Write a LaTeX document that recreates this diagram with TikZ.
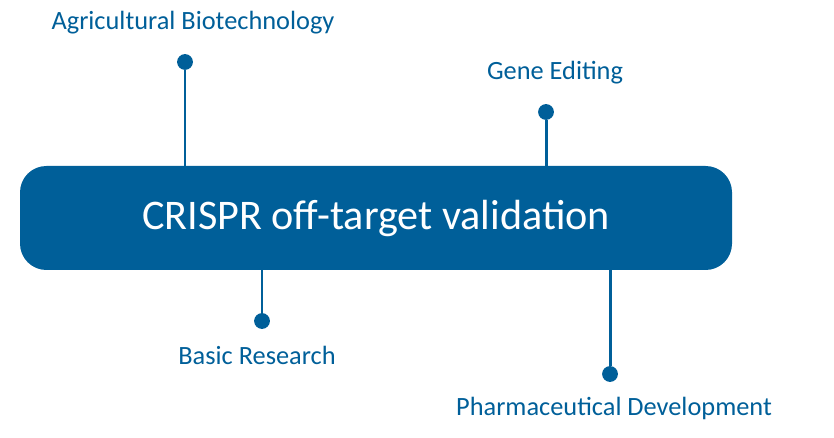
\documentclass[tikz,border=0pt]{standalone}
\usepackage{fontspec}
\setmainfont{Carlito}
\definecolor{crblue}{HTML}{005F99}
\tikzset{
  pin/.style={circle, fill=crblue, inner sep=0pt, minimum size=9pt},
  lbl/.style={text=crblue, font=\fontsize{15}{18}\selectfont},
  stem/.style={draw=crblue, line width=1.7pt}
}
\begin{document}
\begin{tikzpicture}[x=0.02cm, y=-0.02cm]
	\useasboundingbox (0,0) rectangle (834,438);
	\node at (376,218) [fill=crblue, rounded corners=15pt, minimum width=712*0.02cm, minimum height=104*0.02cm, text=white, font=\fontsize{24}{28}\selectfont] (main) {CRISPR off-target validation};
	\node at (185,62) [pin] (p1) {};
	\node at (546,112) [pin] (p2) {};
	\node at (262,321) [pin] (p3) {};
	\node at (610,374) [pin] (p4) {};
	\node at (193,23) [lbl] (l1) {Agricultural Biotechnology};
	\node at (555,73) [lbl] (l2) {Gene Editing};
	\node at (257,355) [lbl] (l3) {Basic Research};
	\node at (614,408) [lbl] (l4) {Pharmaceutical Development};
	\coordinate (t1) at (185,166);
	\coordinate (t2) at (546,166);
	\coordinate (t3) at (262,270);
	\coordinate (t4) at (610,270);

	\draw [stem] (p1) -- (t1);
	\draw [stem] (p2) -- (t2);
	\draw [stem] (p3) -- (t3);
	\draw [stem] (p4) -- (t4);
\end{tikzpicture}
\end{document}
